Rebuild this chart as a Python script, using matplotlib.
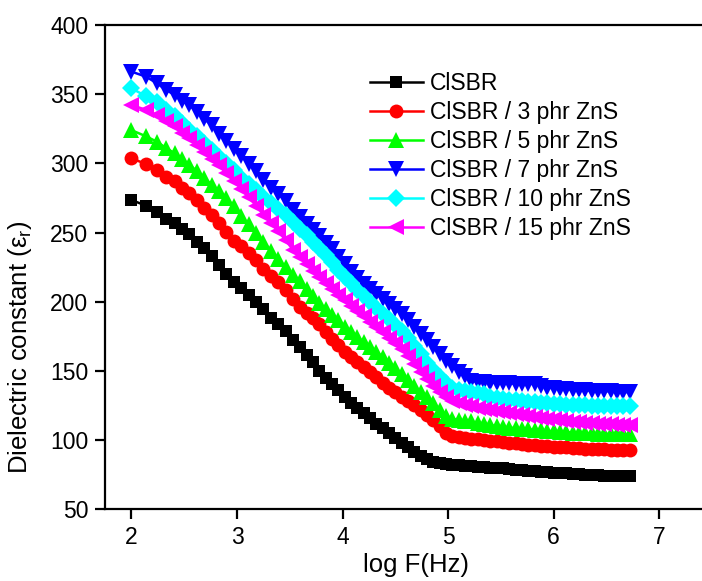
import matplotlib
matplotlib.use("Agg")
import matplotlib.pyplot as plt

plt.rcParams['font.family'] = ['Liberation Sans', 'DejaVu Sans']

logF = [2.00, 2.14, 2.24, 2.33, 2.41, 2.48, 2.55, 2.62, 2.69, 2.76, 2.83, 2.90, 2.97,
        3.04, 3.11, 3.18, 3.25, 3.32, 3.39, 3.46, 3.53, 3.60, 3.66, 3.72, 3.78, 3.84,
        3.90, 3.96, 4.02, 4.08, 4.14, 4.20, 4.26, 4.32, 4.38, 4.44, 4.50, 4.56, 4.62,
        4.68, 4.74, 4.80, 4.86, 4.92, 4.98, 5.04, 5.10, 5.16, 5.22, 5.28, 5.34, 5.40,
        5.46, 5.52, 5.58, 5.64, 5.70, 5.76, 5.82, 5.88, 5.94, 6.00, 6.06, 6.12, 6.18,
        6.24, 6.30, 6.36, 6.42, 6.48, 6.54, 6.60, 6.66, 6.72]

clsbr = [273.5, 269.4, 265.0, 259.8, 257.0, 252.5, 249.0, 243.5, 238.5, 233.0, 226.5, 220.0, 214.0,
         210.0, 205.0, 200.0, 194.5, 188.5, 184.0, 178.5, 172.5, 167.0, 161.5, 156.5, 150.0, 145.0,
         140.5, 136.5, 131.5, 127.0, 123.0, 119.5, 115.8, 112.0, 108.5, 105.0, 101.5, 98.2, 95.0,
         91.5, 88.5, 86.0, 84.4, 83.5, 82.8, 82.2, 81.8, 81.5, 81.2, 80.8, 80.5, 80.1,
         79.8, 79.5, 79.1, 78.7, 78.3, 77.9, 77.5, 77.1, 76.8, 76.5, 76.2, 75.9, 75.6,
         75.3, 75.0, 74.8, 74.6, 74.4, 74.2, 74.0, 73.9, 73.8]

zns3 = [303.6, 299.5, 295.2, 290.4, 287.0, 282.5, 278.5, 273.5, 268.0, 263.0, 257.0, 250.5, 244.0,
        240.5, 235.0, 230.0, 224.0, 218.5, 214.0, 208.5, 202.0, 196.5, 192.0, 188.5, 184.0, 178.0,
        173.0, 168.5, 164.0, 160.0, 156.5, 153.0, 149.4, 145.5, 141.5, 138.0, 134.5, 131.5, 128.5,
        125.5, 122.0, 118.5, 114.5, 110.0, 105.5, 103.0, 102.0, 101.5, 101.0, 100.5, 100.0, 99.6,
        99.1, 98.6, 98.1, 97.6, 97.2, 96.8, 96.4, 96.0, 95.6, 95.3, 95.0, 94.7, 94.4,
        94.1, 93.9, 93.7, 93.5, 93.3, 93.1, 93.0, 92.9, 92.8]

zns5 = [324.0, 319.5, 315.7, 311.0, 307.3, 303.0, 298.8, 294.5, 289.5, 284.5, 280.0, 274.8, 269.0,
        262.0, 256.0, 250.0, 243.5, 237.0, 231.0, 225.0, 219.5, 215.0, 209.0, 204.0, 199.0, 195.0,
        190.5, 186.5, 182.0, 178.0, 174.5, 171.0, 167.5, 164.0, 160.0, 156.0, 152.0, 148.0, 143.5,
        139.0, 135.0, 131.0, 126.5, 121.5, 117.5, 115.5, 114.5, 114.0, 113.5, 112.5, 111.5, 110.8,
        110.2, 109.6, 109.1, 108.6, 108.2, 107.8, 107.4, 107.0, 106.7, 106.4, 106.1, 105.8, 105.5,
        105.3, 105.1, 104.9, 104.7, 104.6, 104.5, 104.4, 104.3, 104.2]

zns7 = [366.3, 362.6, 357.9, 353.0, 349.4, 345.0, 342.0, 337.3, 332.0, 327.7, 321.5, 316.5, 310.5,
        305.5, 299.5, 294.5, 288.0, 282.5, 278.0, 272.5, 266.5, 261.5, 256.5, 252.0, 247.5, 242.5,
        238.0, 232.5, 227.0, 221.5, 217.0, 212.5, 209.0, 205.5, 202.0, 198.5, 194.5, 191.0, 187.0,
        181.5, 177.0, 172.0, 167.5, 162.5, 157.5, 153.5, 149.5, 146.0, 143.0, 142.0, 141.8, 141.6,
        141.4, 141.2, 141.0, 140.8, 140.8, 140.8, 140.5, 139.0, 138.0, 137.5, 137.0, 136.8, 136.5,
        136.2, 136.0, 135.8, 135.6, 135.4, 135.2, 135.0, 134.8, 134.6]

zns10 = [354.2, 348.5, 344.0, 338.5, 334.0, 329.5, 324.0, 319.5, 314.5, 309.5, 304.5, 300.0, 295.0,
         289.5, 285.0, 280.5, 276.0, 271.5, 267.0, 262.5, 257.5, 252.5, 248.0, 243.5, 239.0, 234.0,
         228.5, 223.0, 218.0, 213.5, 208.5, 204.0, 199.5, 195.5, 191.5, 187.3, 183.0, 178.5, 174.0,
         168.0, 162.0, 156.0, 150.5, 145.5, 141.0, 138.0, 136.5, 135.5, 135.0, 134.0, 133.0, 131.5,
         130.5, 130.0, 129.3, 128.8, 128.3, 127.8, 127.4, 127.0, 126.6, 126.3, 126.0, 125.7, 125.5,
         125.3, 125.1, 124.9, 124.8, 124.7, 124.6, 124.5, 124.5, 124.4]

zns15 = [342.2, 338.6, 335.0, 330.5, 327.0, 322.0, 318.0, 313.5, 308.5, 303.5, 298.5, 293.0, 287.5,
         281.5, 275.5, 269.5, 263.0, 257.0, 251.0, 244.5, 237.5, 232.5, 227.5, 222.5, 218.0, 213.5,
         209.0, 205.0, 201.0, 197.0, 193.0, 189.5, 185.6, 181.8, 178.0, 174.0, 170.0, 166.0, 160.5,
         155.0, 149.5, 144.0, 139.0, 135.0, 131.0, 128.5, 126.5, 125.5, 124.5, 123.5, 122.5, 121.7,
         121.0, 120.3, 119.5, 118.7, 118.0, 117.3, 116.6, 116.0, 115.4, 114.9, 114.4, 113.9, 113.4,
         113.0, 112.6, 112.2, 111.9, 111.6, 111.4, 111.2, 111.0, 110.9]

labels = ['ClSBR', 'ClSBR / 3 phr ZnS', 'ClSBR / 5 phr ZnS', 'ClSBR / 7 phr ZnS',
          'ClSBR / 10 phr ZnS', 'ClSBR / 15 phr ZnS']
series = [clsbr, zns3, zns5, zns7, zns10, zns15]
colors = ['#000000', '#FF0000', '#00FF00', '#0000FF', '#00FFFF', '#FF00FF']
markers = ['s', 'o', '^', 'v', 'D', '<']
msizes = [9, 10, 11, 11, 9, 11]

fig = plt.figure(figsize=(7.02, 5.81), dpi=100)
ax = fig.add_axes([0.1496, 0.1234, 0.8526, 0.8336])

for y, lab, c, m, ms in zip(series, labels, colors, markers, msizes):
    ax.plot(logF, y, color=c, marker=m, markersize=ms, linewidth=1.8,
            markeredgewidth=0, label=lab)

ax.set_xlim(1.75, 7.419)
ax.set_ylim(50, 400)
ax.set_xticks([2, 3, 4, 5, 6, 7])
ax.set_yticks([50, 100, 150, 200, 250, 300, 350, 400])
ax.tick_params(axis='both', direction='out', length=7.5, width=1.6, labelsize=16.5,
               top=False, right=False, pad=4.5)
for s in ax.spines.values():
    s.set_linewidth(1.6)

ax.set_xlabel('log F(Hz)', fontsize=18.5)
ax.xaxis.set_label_coords(0.519, -0.090)
ax.set_ylabel('Dielectric constant (ε$_\\mathregular{r}$)', fontsize=18.5)
ax.yaxis.set_label_coords(-0.119, 0.335)

leg = ax.legend(loc='upper left', bbox_to_anchor=(370 / 702, 1 - 72 / 581),
                bbox_transform=fig.transFigure, frameon=False, fontsize=16.5,
                handlelength=2.3, handletextpad=0.32, labelspacing=0.26, borderpad=0,
                borderaxespad=0, handleheight=0.7)

fig.savefig('out.png', dpi=100)
